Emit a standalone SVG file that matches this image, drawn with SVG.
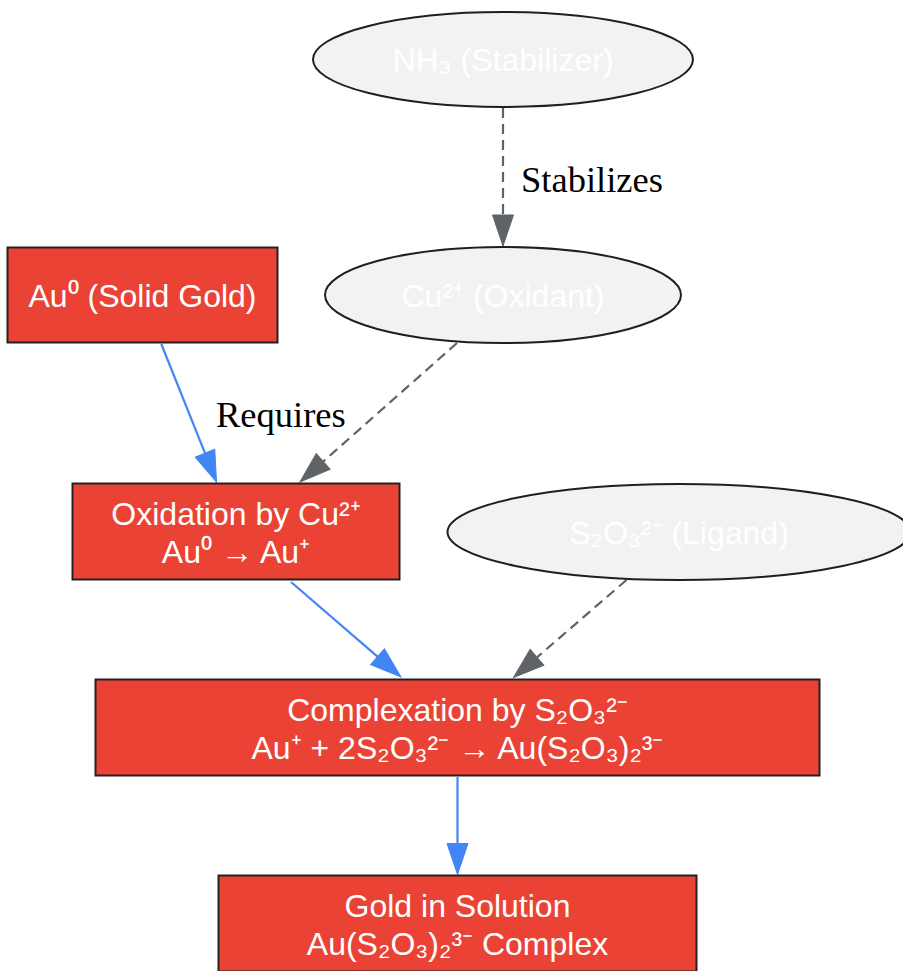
<svg xmlns="http://www.w3.org/2000/svg" width="903" height="971" viewBox="0 0 903 971">
<style>
.box{fill:#ea4335;stroke:#222;stroke-width:2}
.ell{fill:#f1f2f4;stroke:#1f1f1f;stroke-width:2}
.t{font-family:"Liberation Sans",Arial,sans-serif;font-size:32px;fill:#ffffff;text-anchor:middle}
.lbl{font-family:"Liberation Serif","Times New Roman",serif;font-size:36.5px;fill:#000}
.blue{stroke:#4285f4;stroke-width:2.2;fill:none}
.gray{stroke:#5f6368;stroke-width:2.2;fill:none;stroke-dasharray:10,6}
</style>
<defs>
<marker id="ab" markerUnits="userSpaceOnUse" markerWidth="32" markerHeight="22" refX="0" refY="10.5" orient="auto" overflow="visible">
<path d="M0,0 L31,10.5 L0,21 z" fill="#4285f4" stroke="#4285f4" stroke-width="1" stroke-dasharray="none"/>
</marker>
<marker id="ag" markerUnits="userSpaceOnUse" markerWidth="32" markerHeight="22" refX="0" refY="10.5" orient="auto" overflow="visible">
<path d="M0,0 L31,10.5 L0,21 z" fill="#5f6368" stroke="#5f6368" stroke-width="1" stroke-dasharray="none"/>
</marker>
</defs>
<rect width="903" height="971" fill="#ffffff"/>
<g id="edges">
<path class="gray" d="M503,108 L503,215" marker-end="url(#ag)"/>
<text class="lbl" x="521" y="192">Stabilizes</text>
<path class="blue" d="M161.3,344 L205,453.2" marker-end="url(#ab)"/>
<text class="lbl" x="216" y="427">Requires</text>
<path class="gray" d="M457,343 L323.2,461.5" marker-end="url(#ag)"/>
<path class="blue" d="M291,582 L377.5,656.7" marker-end="url(#ab)"/>
<path class="gray" d="M626.5,580 L537,657.3" marker-end="url(#ag)"/>
<path class="blue" d="M457.5,777 L457.5,843.5" marker-end="url(#ab)"/>
</g>
<g id="nh3">
<ellipse class="ell" cx="503" cy="59.5" rx="190" ry="47.5"/>
<text class="t" x="503" y="71">NH₃ (Stabilizer)</text>
</g>
<g id="au0">
<rect class="box" x="7.5" y="247.5" width="270" height="95"/>
<text class="t" x="142.5" y="307">Au⁰ (Solid Gold)</text>
</g>
<g id="cu">
<ellipse class="ell" cx="503" cy="295" rx="178" ry="48"/>
<text class="t" x="503" y="307">Cu²⁺ (Oxidant)</text>
</g>
<g id="oxidation">
<rect class="box" x="72.5" y="483.5" width="327" height="96"/>
<text class="t" x="236" y="525">Oxidation by Cu²⁺</text>
<text class="t" x="236" y="563">Au⁰ → Au⁺</text>
</g>
<g id="s2o3">
<ellipse class="ell" cx="679" cy="532" rx="231.5" ry="48"/>
<text class="t" x="679" y="544">S₂O₃²⁻ (Ligand)</text>
</g>
<g id="complexation">
<rect class="box" x="95.5" y="679.5" width="724" height="96"/>
<text class="t" x="457.5" y="721">Complexation by S₂O₃²⁻</text>
<text class="t" x="457.5" y="759">Au⁺ + 2S₂O₃²⁻ → Au(S₂O₃)₂³⁻</text>
</g>
<g id="gold">
<rect class="box" x="218.5" y="875.5" width="478" height="96"/>
<text class="t" x="457.5" y="917">Gold in Solution</text>
<text class="t" x="457.5" y="955">Au(S₂O₃)₂³⁻ Complex</text>
</g>
</svg>
